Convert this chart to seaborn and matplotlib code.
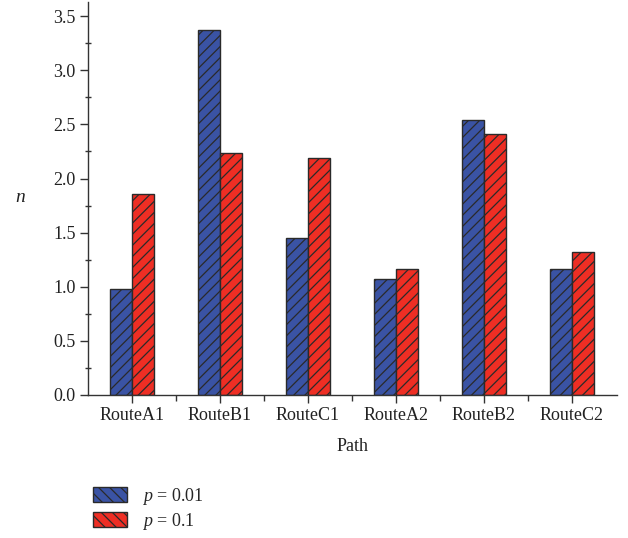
import matplotlib
matplotlib.use("Agg")
import matplotlib.pyplot as plt
from matplotlib.patches import Patch
from matplotlib.ticker import MultipleLocator, FixedLocator, FormatStrFormatter
import seaborn as sns
import pandas as pd

paths = ["RouteA1", "RouteB1", "RouteC1", "RouteA2", "RouteB2", "RouteC2"]
n_p001 = [0.98, 3.37, 1.45, 1.07, 2.54, 1.16]
n_p01 = [1.86, 2.24, 2.19, 1.16, 2.41, 1.32]
series_labels = ["p001", "p01"]
legend_texts = [r"$p$ = 0.01", r"$p$ = 0.1"]
colors = ["#3A53A4", "#EE2E24"]

df = pd.DataFrame({
    "Path": paths * 2,
    "n": n_p001 + n_p01,
    "series": [series_labels[0]] * len(paths) + [series_labels[1]] * len(paths),
})

sns.set_theme(style="ticks")
plt.rcParams["font.family"] = ["Liberation Serif", "DejaVu Serif"]
plt.rcParams["mathtext.fontset"] = "custom"
plt.rcParams["mathtext.it"] = "Liberation Serif:italic"
plt.rcParams["mathtext.rm"] = "Liberation Serif"
plt.rcParams["hatch.linewidth"] = 0.9
plt.rcParams["hatch.color"] = "#1a1a1a"

fig = plt.figure(figsize=(6.28, 5.38), dpi=100)
ax = fig.add_axes([0.140, 0.266, 0.843, 0.730])

sns.barplot(data=df, x="Path", y="n", hue="series", palette=colors,
            width=0.5, gap=0, ax=ax, legend=False,
            edgecolor="#2a2a2a", linewidth=1.0, saturation=1)

for patch in ax.patches:
    patch.set_hatch("///")

ax.set_xlim(-0.5, 5.52)
ax.set_ylim(0, 3.63)
ax.yaxis.set_major_locator(MultipleLocator(0.5))
ax.yaxis.set_minor_locator(MultipleLocator(0.25))
ax.yaxis.set_major_formatter(FormatStrFormatter("%.1f"))
ax.xaxis.set_minor_locator(FixedLocator([i + 0.5 for i in range(len(paths) - 1)]))

for side in ["top", "right"]:
    ax.spines[side].set_visible(False)
for side in ["left", "bottom"]:
    ax.spines[side].set_color("#333333")
    ax.spines[side].set_linewidth(1.0)

ax.tick_params(axis="both", which="major", direction="out", length=6, width=1,
               color="#333333", labelsize=13, labelcolor="#222222", pad=3)
ax.tick_params(axis="y", which="minor", direction="inout", length=4, width=1,
               color="#333333")
ax.tick_params(axis="x", which="minor", direction="out", length=4, width=1,
               color="#333333")

ax.set_xlabel("Path", fontsize=13, color="#222222", labelpad=10)
ax.set_ylabel(r"$n$", fontsize=14, rotation=0, color="#222222")
ax.yaxis.set_label_coords(-0.128, 0.48)

handles = [Patch(facecolor=c, edgecolor="#2a2a2a", hatch="\\\\\\", linewidth=1.0)
           for c in colors]
fig.legend(handles, legend_texts, loc="upper left",
           bbox_to_anchor=(0.128, 0.12), frameon=False, fontsize=13,
           handlelength=1.9, handleheight=0.9, handletextpad=0.8,
           labelspacing=0.2, borderpad=0.2)

fig.savefig("out.png", dpi=100)
